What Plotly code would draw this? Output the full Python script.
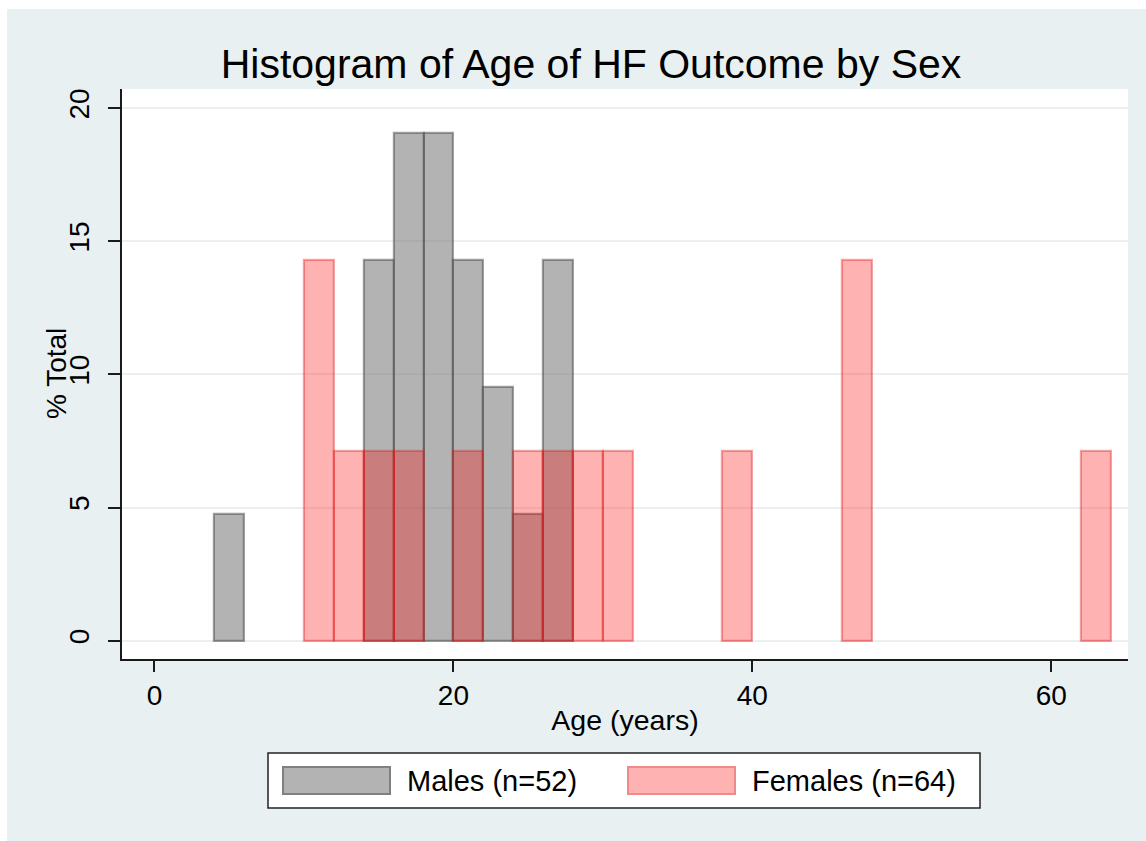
import plotly.graph_objects as go

# ---- data ----
bin_width = 2
male_bin_left = [4, 14, 16, 18, 20, 22, 24, 26]
male_pct = [4.76, 14.29, 19.05, 19.05, 14.29, 9.52, 4.76, 14.29]
female_bin_left = [10, 12, 14, 16, 20, 24, 26, 28, 30, 38, 46, 62]
female_pct = [14.29, 7.14, 7.14, 7.14, 7.14, 7.14, 7.14, 7.14, 7.14, 7.14, 14.29, 7.14]
y_ticks = [0, 5, 10, 15, 20]
x_ticks = [0, 20, 40, 60]
male_label = "Males (n=52)"
female_label = "Females (n=64)"
title_text = "Histogram of Age of HF Outcome by Sex"
x_title = "Age (years)"
y_title = "% Total"

# ---- layout geometry (pixels, screen coordinates) ----
W, H = 1146, 841
PL, PR, PT, PB = 122, 1128, 89, 659  # plot area edges
FONT = "Liberation Sans, Arial, Helvetica, sans-serif"
BG = "#e9f0f2"

def px_x(p):
    return (p - PL) / (PR - PL)

def px_y(p):
    return (PB - p) / (PB - PT)

male_fill = "rgba(128,128,128,0.6)"
male_line = "rgba(80,80,80,0.55)"
fem_fill = "rgba(255,0,0,0.3)"
fem_line = "rgba(225,30,30,0.4)"

fig = go.Figure()
fig.add_trace(go.Bar(
    x=[b + bin_width / 2 for b in male_bin_left], y=male_pct, width=bin_width,
    name=male_label, marker=dict(color=male_fill, line=dict(color=male_line, width=2.2)),
    showlegend=False,
))
fig.add_trace(go.Bar(
    x=[b + bin_width / 2 for b in female_bin_left], y=female_pct, width=bin_width,
    name=female_label, marker=dict(color=fem_fill, line=dict(color=fem_line, width=2.2)),
    showlegend=False,
))

shapes = [
    # white strips at top and left edge of the image
    dict(type="rect", xref="paper", yref="paper", x0=px_x(0), x1=px_x(W), y0=px_y(9), y1=px_y(0),
         fillcolor="white", line=dict(width=0), layer="below"),
    dict(type="rect", xref="paper", yref="paper", x0=px_x(0), x1=px_x(7), y0=px_y(H), y1=px_y(0),
         fillcolor="white", line=dict(width=0), layer="below"),
    # legend box
    dict(type="rect", xref="paper", yref="paper", x0=px_x(268), x1=px_x(980), y0=px_y(808), y1=px_y(753),
         fillcolor="white", line=dict(color="#222222", width=1.5)),
    dict(type="rect", xref="paper", yref="paper", x0=px_x(283), x1=px_x(390), y0=px_y(794), y1=px_y(767),
         fillcolor="#b3b3b3", line=dict(color="#808080", width=2)),
    dict(type="rect", xref="paper", yref="paper", x0=px_x(628), x1=px_x(735), y0=px_y(794), y1=px_y(767),
         fillcolor="#ffb2b2", line=dict(color="#f08a8a", width=2)),
]

annotations = [
    dict(text=male_label, xref="paper", yref="paper", x=px_x(405), y=px_y(781), xanchor="left",
         yanchor="middle", showarrow=False, font=dict(size=29, color="black", family=FONT)),
    dict(text=female_label, xref="paper", yref="paper", x=px_x(750), y=px_y(781), xanchor="left",
         yanchor="middle", showarrow=False, font=dict(size=29, color="black", family=FONT)),
    dict(text=y_title, xref="paper", yref="paper", x=px_x(56), y=px_y(374), xanchor="center",
         yanchor="middle", textangle=-90, showarrow=False,
         font=dict(size=28, color="black", family=FONT)),
]

fig.update_layout(
    width=W, height=H,
    margin=dict(l=PL, r=W - PR, t=PT, b=H - PB, pad=0),
    paper_bgcolor=BG, plot_bgcolor="white",
    barmode="overlay", bargap=0,
    font=dict(family=FONT, size=28, color="black"),
    title=dict(text=title_text, x=591 / W, xref="container", xanchor="center",
               y=1 - 63.5 / H, yref="container", yanchor="middle",
               font=dict(size=41, family=FONT, color="black")),
    shapes=shapes, annotations=annotations, showlegend=False,
    xaxis=dict(range=[-2.17, 65.13], tickvals=x_ticks, showgrid=False, zeroline=False,
               showline=True, linecolor="#1a1a1a", linewidth=1.5,
               ticks="outside", ticklen=11, tickwidth=1.5, tickcolor="#1a1a1a",
               ticklabelstandoff=0,
               title=dict(text=x_title, standoff=0, font=dict(size=28.5))),
    yaxis=dict(range=[-0.69, 20.72], tickvals=y_ticks, showgrid=True, gridcolor="#eceff1",
               gridwidth=1.5, zeroline=False, showline=True, linecolor="#1a1a1a", linewidth=1.5,
               ticks="outside", ticklen=12, tickwidth=1.5, tickcolor="#1a1a1a",
               tickangle=-90, ticklabelstandoff=8),
)

fig.write_html(
    "out.html",
    config={"displayModeBar": False},
    post_script="document.body.style.margin='0';document.body.style.overflow='hidden';",
)
